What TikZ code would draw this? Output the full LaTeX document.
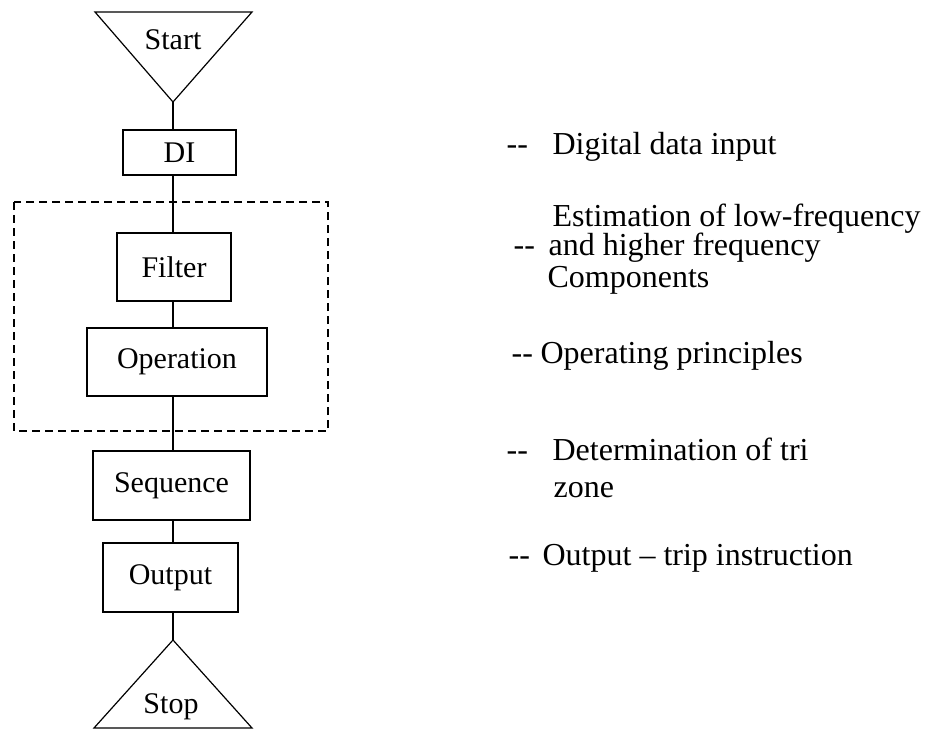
\documentclass[tikz,border=0pt]{standalone}
\usepackage{fontspec}
\setmainfont{Liberation Serif}
\begin{document}
\begin{tikzpicture}[x=1pt,y=-1pt,line width=1.2pt,
  box/.style={draw, inner sep=0pt, font=\fontsize{30}{36}\selectfont},
  tag/.style={inner sep=0pt, font=\fontsize{30}{36}\selectfont, anchor=base},
  note/.style={anchor=base west, inner sep=0pt, font=\fontsize{32}{38}\selectfont},
  group/.style={dash pattern=on 8pt off 5pt, line width=1.1pt}]
\useasboundingbox (0,0) rectangle (926,730);

% terminal triangles
\draw (95,12) -- (252,12) -- (173,102) -- cycle;
\coordinate (startTip) at (173,102);
\node[tag] (start) at (173,50) {Start};

\draw (173,640) -- (94,728) -- (252,728) -- cycle;
\coordinate (stopTip) at (173,640);
\node[tag] (stop) at (171,713) {Stop};

% processing blocks
\node[box, minimum width=113pt, minimum height=45pt] (di) at (179.5,152.5) {DI};
\node[box, minimum width=114pt, minimum height=68pt] (filter) at (174,267) {Filter};
\node[box, minimum width=180pt, minimum height=68pt] (oper) at (177,362) {Operation};
\node[box, minimum width=157pt, minimum height=69pt] (seq) at (171.5,485.5) {Sequence};
\node[box, minimum width=135pt, minimum height=69pt] (out) at (170.5,577.5) {Output};

% dashed grouping frame
\draw[group] (14,202) rectangle (328,431);

% vertical connectors along the spine
\draw (startTip) -- (di.north -| startTip);
\draw (di.south -| startTip) -- (filter.north -| startTip);
\draw (filter.south -| startTip) -- (oper.north -| startTip);
\draw (oper.south -| startTip) -- (seq.north -| startTip);
\draw (seq.south -| startTip) -- (out.north -| startTip);
\draw (out.south -| stopTip) -- (stopTip);

% descriptions
\node[note] (d1) at (506,155) {-{}-};
\node[note] (t1) at (552,155) {Digital data input};

\node[note] (t2a) at (552,226) {Estimation of low-frequency};
\node[note] (d2) at (513,255) {-{}-};
\node[note] (t2b) at (548,255) {and higher frequency};
\node[note] (t2c) at (547,287) {Components};

\node[note] (d3) at (511,363) {-{}-};
\node[note] (t3) at (540,363) {Operating principles};

\node[note] (d4) at (506,460) {-{}-};
\node[note] (t4a) at (552,460) {Determination of tri};
\node[note] (t4b) at (553,497) {zone};

\node[note] (d5) at (508,565) {-{}-};
\node[note] (t5) at (542,565) {Output – trip instruction};
\end{tikzpicture}
\end{document}
